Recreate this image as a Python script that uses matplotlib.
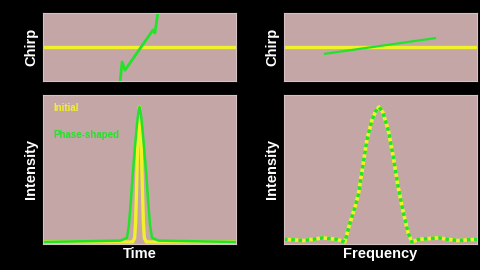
import matplotlib
matplotlib.use('Agg')
import matplotlib.pyplot as plt

#================================================================
# Data
#================================================================
# Chirp (top-left), time axis
chirp_init_t = [-1.0, 1.0]
chirp_init_v = [0.0, 0.0]
chirp_shaped_t = [-0.20, -0.18, -0.15, 0.14, 0.16, 0.19]
chirp_shaped_v = [-1.0, -0.44, -0.68, 0.50, 0.41, 1.0]

# Intensity vs time (bottom-left)
time_t = [-1.0, -0.20, -0.13, -0.11, -0.09, -0.07, -0.05, -0.04, -0.03, -0.02, -0.01, 0.0,
          0.01, 0.02, 0.03, 0.04, 0.05, 0.07, 0.09, 0.11, 0.13, 0.20, 1.0]
int_initial = [0.0, 0.0, 0.0, 0.0, 0.0, 0.0, 0.03, 0.15, 0.40, 0.68, 0.90, 1.0,
               0.90, 0.68, 0.40, 0.15, 0.03, 0.0, 0.0, 0.0, 0.0, 0.0, 0.0]
int_shaped = [0.0, 0.01, 0.03, 0.12, 0.30, 0.50, 0.68, 0.76, 0.84, 0.91, 0.97, 1.0,
              0.97, 0.91, 0.84, 0.76, 0.68, 0.50, 0.30, 0.12, 0.03, 0.01, 0.0]

# Chirp (top-right), frequency axis
fchirp_init_f = [-1.0, 1.0]
fchirp_init_v = [0.0, 0.0]
fchirp_shaped_f = [-0.575, 0.565]
fchirp_shaped_v = [-0.20, 0.26]

# Spectrum (bottom-right), same for both pulses
freq_f = [-1.0, -0.8, -0.6, -0.45, -0.37, -0.32, -0.26, -0.23, -0.19, -0.14, -0.09, -0.05,
          -0.015, 0.025, 0.08, 0.13, 0.18, 0.23, 0.285, 0.325, 0.4, 0.6, 0.8, 1.0]
spec_v = [0.02, 0.01, 0.03, 0.02, 0.0, 0.13, 0.27, 0.35, 0.53, 0.76, 0.90, 0.97,
          1.0, 0.96, 0.83, 0.64, 0.42, 0.24, 0.07, 0.0, 0.02, 0.03, 0.01, 0.02]

#================================================================
# Style
#================================================================
nen = '#c4a6a7'       # panel colour
vang = '#f2f02a'      # yellow
xanh = '#22e22a'      # green
plt.rcParams['font.family'] = ['Liberation Sans', 'DejaVu Sans']

fig = plt.figure(figsize=(4.8, 2.7), dpi=100, facecolor='black')

def TaoPanel(rect):
    ax = fig.add_axes(rect)
    ax.set_facecolor(nen)
    ax.set_xticks([])
    ax.set_yticks([])
    for s in ax.spines.values():
        s.set_color('#d6c2c2')
        s.set_linewidth(0.8)
    ax.set_xlim(-1, 1)
    return ax

w = 0.402
ax1 = TaoPanel([0.0896, 0.700, w, 0.252])
ax2 = TaoPanel([0.0896, 0.0963, w, 0.552])
ax3 = TaoPanel([0.5917, 0.700, w, 0.252])
ax4 = TaoPanel([0.5917, 0.0963, w, 0.552])

# Top-left: chirp vs time
ax1.plot(chirp_init_t, chirp_init_v, color=vang, lw=2.4)
ax1.plot(chirp_shaped_t, chirp_shaped_v, color=xanh, lw=2.0)
ax1.set_ylim(-1, 1)

# Bottom-left: intensity vs time
ax2.plot(time_t, int_initial, color=vang, lw=2.4)
ax2.plot(time_t, int_shaped, color=xanh, lw=1.8)
ax2.set_ylim(-0.015, 1.089)
ax2.text(0.052, 0.913, 'Initial', color=vang, fontsize=7, fontweight='bold',
         transform=ax2.transAxes, va='center')
ax2.text(0.052, 0.73, 'Phase-shaped', color=xanh, fontsize=7, fontweight='bold',
         transform=ax2.transAxes, va='center')

# Top-right: chirp vs frequency
ax3.plot(fchirp_init_f, fchirp_init_v, color=vang, lw=2.4)
ax3.plot(fchirp_shaped_f, fchirp_shaped_v, color=xanh, lw=1.6)
ax3.set_ylim(-1, 1)

# Bottom-right: spectrum (yellow under green dots)
ax4.plot(freq_f, spec_v, color=vang, lw=2.6)
ax4.plot(freq_f, spec_v, color=xanh, lw=2.6, dashes=(1, 1))
ax4.set_ylim(-0.015, 1.089)

# Axis labels
nhan = dict(color='white', fontsize=10.5, fontweight='bold', ha='center', va='center')
fig.text(31 / 480, 1 - 47 / 270, 'Chirp', rotation=90, **nhan)
fig.text(31 / 480, 1 - 169 / 270, 'Intensity', rotation=90, **nhan)
fig.text(272 / 480, 1 - 47 / 270, 'Chirp', rotation=90, **nhan)
fig.text(272 / 480, 1 - 169 / 270, 'Intensity', rotation=90, **nhan)
fig.text(139.5 / 480, 1 - 254 / 270, 'Time', **nhan)
fig.text(380.5 / 480, 1 - 254 / 270, 'Frequency', **nhan)

fig.savefig('out.png', dpi=100, facecolor='black')
